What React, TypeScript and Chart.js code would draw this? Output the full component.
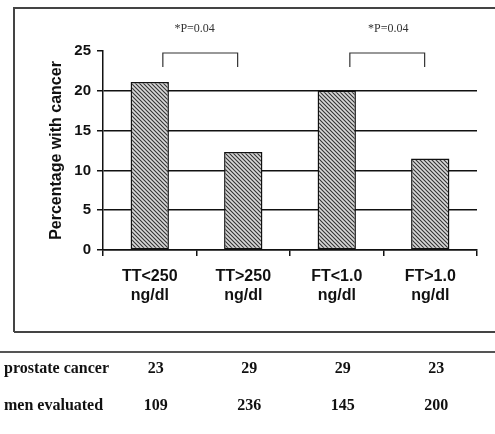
import React, { useEffect, useRef } from "react";
import { Chart, registerables } from "chart.js";

Chart.register(...registerables);

const categories: string[][] = [
  ["TT<250", "ng/dl"],
  ["TT>250", "ng/dl"],
  ["FT<1.0", "ng/dl"],
  ["FT>1.0", "ng/dl"],
];
const percentWithCancer = [21.1, 12.3, 20.0, 11.5];
const yTicks = [0, 5, 10, 15, 20, 25];
const yTitle = "Percentage with cancer";

// significance brackets: [from index, to index] in category units, top / leg values
const bracketFrom = [0.14, 2.14];
const bracketTo = [0.94, 2.94];
const bracketTop = 24.75;
const bracketLeg = 23.0;
const pLabels = ["*P=0.04", "*P=0.04"];
const pLabelX = [0.48, 2.55];

const tableRowLabels = ["prostate cancer", "men evaluated"];
const prostateCancer = [23, 29, 29, 23];
const menEvaluated = [109, 236, 145, 200];

const SANS = '"Liberation Sans", Arial, sans-serif';
const SERIF = '"Liberation Serif", "Times New Roman", serif';

function makePattern(): CanvasPattern | string {
  const c = document.createElement("canvas");
  c.width = 4;
  c.height = 4;
  const g = c.getContext("2d");
  if (!g) return "#999";
  g.fillStyle = "#d8d8d8";
  g.fillRect(0, 0, 4, 4);
  g.strokeStyle = "#333";
  g.lineWidth = 1.1;
  g.beginPath();
  g.moveTo(-1, -1);
  g.lineTo(5, 5);
  g.moveTo(3, -1);
  g.lineTo(5, 1);
  g.moveTo(-1, 3);
  g.lineTo(1, 5);
  g.stroke();
  const p = g.createPattern(c, "repeat");
  return p || "#999";
}

const decorPlugin = {
  id: "decor",
  beforeDraw(chart: any) {
    const ctx = chart.ctx;
    ctx.save();
    // outer box
    ctx.strokeStyle = "#444";
    ctx.lineWidth = 2;
    ctx.beginPath();
    ctx.moveTo(14, 332);
    ctx.lineTo(14, 8);
    ctx.lineTo(500, 8);
    ctx.moveTo(14, 332);
    ctx.lineTo(500, 332);
    ctx.stroke();
    ctx.restore();
  },
  afterDraw(chart: any) {
    const ctx = chart.ctx;
    const x = chart.scales.x;
    const y = chart.scales.y;
    ctx.save();
    // brackets
    ctx.strokeStyle = "#333";
    ctx.lineWidth = 1.2;
    for (let i = 0; i < bracketFrom.length; i++) {
      const x1 = x.getPixelForValue(bracketFrom[i]);
      const x2 = x.getPixelForValue(bracketTo[i]);
      const yt = y.getPixelForValue(bracketTop);
      const yl = y.getPixelForValue(bracketLeg);
      ctx.beginPath();
      ctx.moveTo(x1, yl);
      ctx.lineTo(x1, yt);
      ctx.lineTo(x2, yt);
      ctx.lineTo(x2, yl);
      ctx.stroke();
    }
    // p labels
    ctx.fillStyle = "#333";
    ctx.font = "12px " + SERIF;
    ctx.textAlign = "center";
    ctx.textBaseline = "middle";
    for (let i = 0; i < pLabels.length; i++) {
      ctx.fillText(pLabels[i], x.getPixelForValue(pLabelX[i]), 29);
    }
    // table separator
    ctx.strokeStyle = "#555";
    ctx.lineWidth = 2;
    ctx.beginPath();
    ctx.moveTo(0, 352);
    ctx.lineTo(495, 352);
    ctx.stroke();
    // table rows
    ctx.fillStyle = "#111";
    ctx.font = "bold 16px " + SERIF;
    const rows = [prostateCancer, menEvaluated];
    const rowY = [369, 406];
    for (let r = 0; r < rows.length; r++) {
      ctx.textAlign = "left";
      ctx.fillText(tableRowLabels[r], 4, rowY[r]);
      ctx.textAlign = "center";
      rows[r].forEach((v, i) => {
        ctx.fillText(String(v), x.getPixelForValue(i) + 6, rowY[r]);
      });
    }
    ctx.restore();
  },
};

export default function App() {
  const ref = useRef<HTMLCanvasElement | null>(null);
  useEffect(() => {
    if (!ref.current) return;
    const chart = new Chart(ref.current, {
      type: "bar",
      data: {
        labels: categories,
        datasets: [
          {
            data: percentWithCancer,
            backgroundColor: makePattern() as any,
            borderColor: "#111",
            borderWidth: 1.5,
            borderSkipped: false,
            barPercentage: 0.41,
            categoryPercentage: 1,
          },
        ],
      },
      options: {
        responsive: false,
        animation: false,
        devicePixelRatio: 1,
        layout: { padding: { top: 51, right: 18, left: 40, bottom: 0 } },
        plugins: {
          legend: { display: false },
          tooltip: { enabled: false },
          title: { display: false },
        },
        scales: {
          x: {
            offset: true,
            grid: {
              offset: true,
              drawOnChartArea: false,
              drawTicks: true,
              tickLength: 6,
              tickColor: "#111",
              tickWidth: 1.5,
              lineWidth: 1.5,
              color: "#111",
            },
            border: { display: true, color: "#111", width: 1.5 },
            ticks: {
              color: "#111",
              font: { family: SANS, size: 16, weight: "bold" },
              padding: 11,
              maxRotation: 0,
              autoSkip: false,
            },
            afterFit: (s: any) => {
              s.height = 434 - 250;
            },
          },
          y: {
            min: 0,
            max: 25,
            afterBuildTicks: (s: any) => {
              s.ticks = yTicks.map((v) => ({ value: v }));
            },
            grid: {
              color: (c: any) => (c.tick && c.tick.value === 25 ? "rgba(0,0,0,0)" : "#111"),
              tickColor: "#111",
              lineWidth: 1.5,
              tickWidth: 1.5,
              tickLength: 6,
            },
            border: { display: true, color: "#111", width: 1.5 },
            ticks: {
              color: "#111",
              font: { family: SANS, size: 15, weight: "bold" },
              padding: 6,
            },
            title: {
              display: true,
              text: yTitle,
              color: "#111",
              font: { family: SANS, size: 16, weight: "bold" },
              padding: { top: 7, bottom: 0 },
            },
            afterFit: (s: any) => {
              s.width = 103 - 40;
            },
          },
        },
      },
      plugins: [decorPlugin],
    });
    return () => chart.destroy();
  }, []);
  return (
    <div style={{ position: "absolute", left: 0, top: 0, width: 495, height: 434, background: "#fff" }}>
      <canvas ref={ref} width={495} height={434} style={{ display: "block", width: 495, height: 434 }} />
    </div>
  );
}
